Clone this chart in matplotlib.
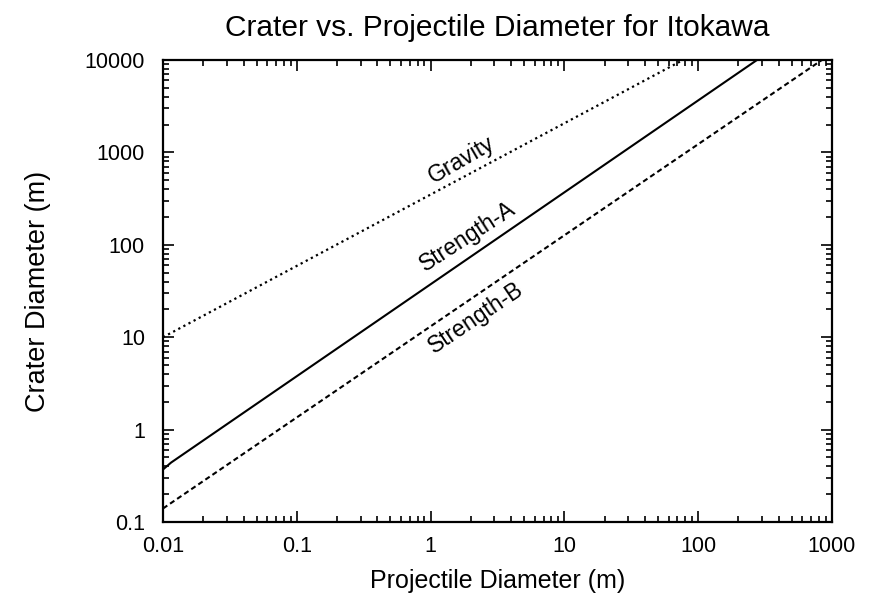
import matplotlib
matplotlib.use("Agg")
import matplotlib.pyplot as plt
from matplotlib.ticker import LogLocator, FixedLocator, FixedFormatter, NullFormatter

plt.rcParams['font.family'] = ['Liberation Sans', 'DejaVu Sans']

# Data
gravity_x = [0.01, 77, 100]
gravity_y = [10, 10000, 12200]

strength_a_x = [0.01, 0.0115, 275, 400]
strength_a_y = [0.37, 0.44, 10000, 14500]

strength_b_x = [0.01, 840, 1000]
strength_b_y = [0.14, 10000, 11850]

x_ticks = [0.01, 0.1, 1, 10, 100, 1000]
x_tick_labels = ["0.01", "0.1", "1", "10", "100", "1000"]
y_ticks = [0.1, 1, 10, 100, 1000, 10000]
y_tick_labels = ["0.1", "1", "10", "100", "1000", "10000"]

fig = plt.figure(figsize=(8.79, 5.95), dpi=100)
ax = fig.add_axes([163/879, 1-522/595, (832-163)/879, (522-60)/595])

ax.plot(gravity_x, gravity_y, color='black', lw=1.6, linestyle=(0, (1, 1.6)))
ax.plot(strength_a_x, strength_a_y, color='black', lw=1.5, linestyle='-')
ax.plot(strength_b_x, strength_b_y, color='black', lw=1.5, linestyle=(0, (2.5, 1.6)))

ax.set_xscale('log')
ax.set_yscale('log')
ax.set_xlim(0.01, 1000)
ax.set_ylim(0.1, 10000)

ax.xaxis.set_major_locator(FixedLocator(x_ticks))
ax.xaxis.set_major_formatter(FixedFormatter(x_tick_labels))
ax.yaxis.set_major_locator(FixedLocator(y_ticks))
ax.yaxis.set_major_formatter(FixedFormatter(y_tick_labels))
ax.xaxis.set_minor_locator(LogLocator(base=10, subs=range(2, 10), numticks=50))
ax.yaxis.set_minor_locator(LogLocator(base=10, subs=range(2, 10), numticks=50))
ax.xaxis.set_minor_formatter(NullFormatter())
ax.yaxis.set_minor_formatter(NullFormatter())

ax.tick_params(which='both', direction='in', top=True, right=True, width=1.2, color='black')
ax.tick_params(which='major', length=8, labelsize=15.5)
ax.tick_params(axis='x', which='major', pad=10)
ax.tick_params(axis='y', which='major', pad=13)
ax.tick_params(which='minor', length=4)
for s in ax.spines.values():
    s.set_linewidth(1.6)

ax.set_title("Crater vs. Projectile Diameter for Itokawa", fontsize=21.5, pad=17)
ax.set_xlabel("Projectile Diameter (m)", fontsize=18, labelpad=9)
ax.set_ylabel("Crater Diameter (m)", fontsize=19.5, labelpad=24)

ax.text(1.69, 828, "Gravity", rotation=30, fontsize=16.5, ha='center', va='center', rotation_mode='anchor')
ax.text(1.905, 124, "Strength-A", rotation=33, fontsize=16.5, ha='center', va='center', rotation_mode='anchor')
ax.text(2.18, 16.0, "Strength-B", rotation=34, fontsize=16.5, ha='center', va='center', rotation_mode='anchor')

fig.savefig("out.png", dpi=100)
